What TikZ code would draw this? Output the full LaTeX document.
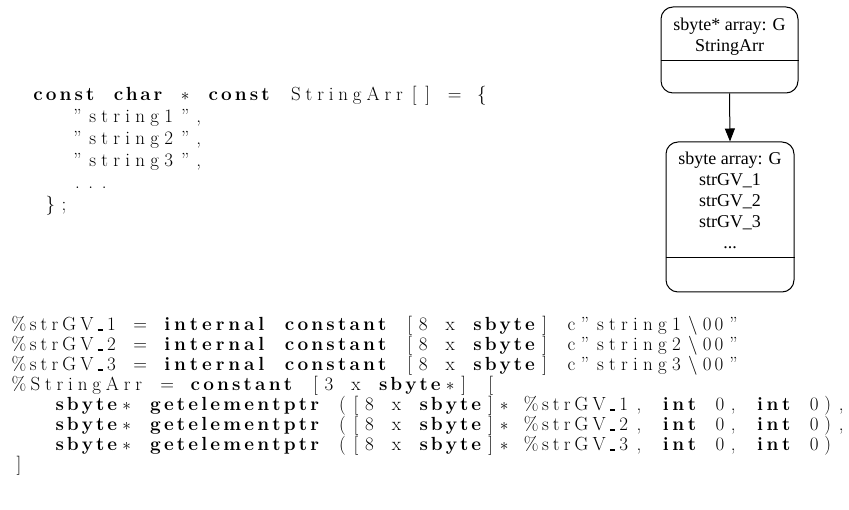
\documentclass[tikz,border=0pt]{standalone}
\usepackage{fontspec}
\usetikzlibrary{arrows.meta,calc}
\newfontfamily\graphfont{Liberation Serif}
\newlength\cw \setlength\cw{13.48pt}
\def\B{\relax B}
\def\R{\relax R}
\newcommand\us{\rule{5.5pt}{1.6pt}}
\newcommand{\cast}{$\ast$}
\ExplSyntaxOn
\cs_new_protected:Npn \fx_unit:n #1
  { \hbox_to_wd:nn { \tl_count:n {#1} \cw } { \hss \tl_map_inline:nn {#1} { ##1 \hss } } }
\NewDocumentCommand\fx{m}{
  \tl_map_inline:nn {#1}
   {
     \tl_if_single_token:nTF {##1}
       {
         \token_if_eq_meaning:NNTF ##1 \B { \bfseries }
          { \token_if_eq_meaning:NNTF ##1 \R { \mdseries } { \makebox[\cw]{##1} } }
       }
       { \fx_unit:n {##1} }
   }
}
\ExplSyntaxOff
\tikzset{
  codeline/.style={inner sep=0pt, anchor=base west, font=\rmfamily\fontsize{19}{20}\selectfont},
  gbox/.style={draw, line width=1pt, rounded corners=12pt, inner sep=0pt},
  gtext/.style={inner sep=0pt, align=center, font=\graphfont\fontsize{18}{21}\selectfont},
  garrow/.style={line width=1pt, -{Triangle[length=13pt,width=10pt]}}
}
\begin{document}
\begin{tikzpicture}[x=1pt,y=-1pt]
\useasboundingbox (0,0) rectangle (849,510);
% top code (origin x=30)
\node[codeline] (t1) at (30,101) {\fx{\B{const}~{char}~\R\cast~\B{const}~\R{StringArr}[]~=~\{}};
\node[codeline] (t2) at (70.44,123) {\fx{”{string1}”,}};
\node[codeline] (t3) at (70.44,145) {\fx{”{string2}”,}};
\node[codeline] (t4) at (70.44,167) {\fx{”{string3}”,}};
\node[codeline] (t5) at (70.44,189) {\fx{...}};
\node[codeline] (t6) at (43.48,211) {\fx{\};}};
% bottom code (origin x=12)
\node[codeline] (b1) at (12,331) {\fx{\%{strGV\us 1}~=~\B{internal}~{constant}~\R[8~x~\B{sbyte}\R]~c”{string1}\textbackslash{00}”}};
\node[codeline] (b2) at (12,351) {\fx{\%{strGV\us 2}~=~\B{internal}~{constant}~\R[8~x~\B{sbyte}\R]~c”{string2}\textbackslash{00}”}};
\node[codeline] (b3) at (12,371) {\fx{\%{strGV\us 3}~=~\B{internal}~{constant}~\R[8~x~\B{sbyte}\R]~c”{string3}\textbackslash{00}”}};
\node[codeline] (b4) at (12,391) {\fx{\%{StringArr}~=~\B{constant}~\R[3~x~\B{sbyte}\R\cast]~[}};
\node[codeline] (b5) at (52.44,411) {\fx{\B{sbyte}\R\cast~\B{getelementptr}~\R([8~x~\B{sbyte}\R]\cast~\%{strGV\us 1},~\B{int}~\R0,~\B{int}~\R0),}};
\node[codeline] (b6) at (52.44,431) {\fx{\B{sbyte}\R\cast~\B{getelementptr}~\R([8~x~\B{sbyte}\R]\cast~\%{strGV\us 2},~\B{int}~\R0,~\B{int}~\R0),}};
\node[codeline] (b7) at (52.44,451) {\fx{\B{sbyte}\R\cast~\B{getelementptr}~\R([8~x~\B{sbyte}\R]\cast~\%{strGV\us 3},~\B{int}~\R0,~\B{int}~\R0)}};
\node[codeline] (b8) at (12,471) {\fx{]}};
% graph
\node[gbox, minimum width=137pt, minimum height=86pt] (A) at (729.5,50) {};
\draw[line width=1pt] ($(A.north west)+(0,54)$) -- ($(A.north east)+(0,54)$);
\node[gtext, anchor=north] (Al) at (729.5,17.7) {sbyte* array: G\\StringArr};
\node[gbox, minimum width=128pt, minimum height=150pt] (B) at (730,217) {};
\draw[line width=1pt] ($(B.north west)+(0,116)$) -- ($(B.north east)+(0,116)$);
\node[gtext, anchor=north] (Bl) at (730,151.7) {sbyte array: G\\strGV\_1\\strGV\_2\\strGV\_3\\...};
\draw[garrow] (A.south) -- (B.north);
\end{tikzpicture}
\end{document}
